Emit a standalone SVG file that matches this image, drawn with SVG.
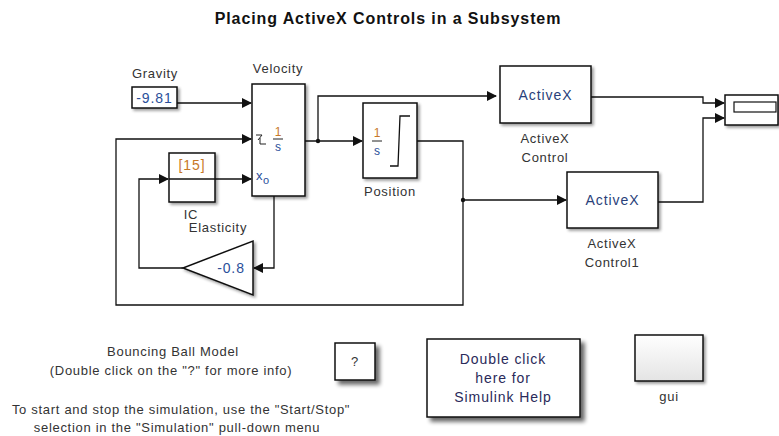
<svg xmlns="http://www.w3.org/2000/svg" width="779" height="436" viewBox="0 0 779 436">
<style>
text{font-family:"Liberation Sans",Arial,sans-serif;font-size:13px;letter-spacing:0.7px;fill:#333}
.title{font-size:16px;font-weight:bold;letter-spacing:0.9px;fill:#111}
.blk{fill:#fff;stroke:#111;stroke-width:1.5}
.ln{fill:none;stroke:#111;stroke-width:1.3}
.in{font-size:14px;letter-spacing:0.9px}
.num{fill:#2a4f9a}
.org{fill:#c87828}
.ax{fill:#2a3f7a}
.hp{fill:#2a2a5a}
</style>
<defs>
<marker id="ah" markerWidth="10" markerHeight="10" refX="9" refY="5" orient="auto" markerUnits="userSpaceOnUse">
<path d="M0,0 L10,5 L0,10 z" fill="#111"/>
</marker>
<filter id="sh" x="-20%" y="-20%" width="150%" height="150%">
<feGaussianBlur in="SourceAlpha" stdDeviation="1.5"/>
<feOffset dx="2" dy="2" result="b"/>
<feComponentTransfer><feFuncA type="linear" slope="0.4"/></feComponentTransfer>
<feMerge><feMergeNode/><feMergeNode in="SourceGraphic"/></feMerge>
</filter>
<filter id="sh2" x="-20%" y="-20%" width="150%" height="150%">
<feGaussianBlur in="SourceAlpha" stdDeviation="2"/>
<feOffset dx="4" dy="4" result="b"/>
<feComponentTransfer><feFuncA type="linear" slope="0.6"/></feComponentTransfer>
<feMerge><feMergeNode/><feMergeNode in="SourceGraphic"/></feMerge>
</filter>
<linearGradient id="gg" x1="0" y1="0" x2="0" y2="1">
<stop offset="0" stop-color="#ffffff"/>
<stop offset="1" stop-color="#e4e4e4"/>
</linearGradient>
</defs>

<text class="title" x="388" y="24" text-anchor="middle">Placing ActiveX Controls in a Subsystem</text>

<g id="connectors">
<path class="ln" d="M177,103 H251" marker-end="url(#ah)"/>
<path class="ln" d="M305,141 H362" marker-end="url(#ah)"/>
<path class="ln" d="M318,141 V96 H496" marker-end="url(#ah)"/>
<path class="ln" d="M417,141 H463 V305 H116 V139 H251" marker-end="url(#ah)"/>
<path class="ln" d="M463,200 H566" marker-end="url(#ah)"/>
<path class="ln" d="M274,196 V268 H254" marker-end="url(#ah)"/>
<path class="ln" d="M183,268 H139 V179 H168" marker-end="url(#ah)"/>
<path class="ln" d="M215,179 H251" marker-end="url(#ah)"/>
<path class="ln" d="M591,97 H703 V103 H724" marker-end="url(#ah)"/>
<path class="ln" d="M658,202 H703 V118 H724" marker-end="url(#ah)"/>
<circle cx="318" cy="141" r="2.2" fill="#111"/>
<circle cx="463" cy="200" r="2.2" fill="#111"/>
</g>

<g id="gravity">
<rect class="blk" x="132" y="87" width="45" height="21" filter="url(#sh)"/>
<text class="in num" x="154.5" y="103" text-anchor="middle">-9.81</text>
<text x="155" y="78" text-anchor="middle">Gravity</text>
</g>

<g id="velocity">
<rect class="blk" x="252" y="84" width="53" height="112" filter="url(#sh)"/>
<text x="278" y="73" text-anchor="middle">Velocity</text>
<path d="M256,135 h6 l-4,5 M260,138 v6 h6" fill="none" stroke="#222" stroke-width="1"/>
<text class="org" x="278" y="136" text-anchor="middle" style="font-size:12px;letter-spacing:0">1</text>
<line x1="273" y1="139" x2="283" y2="139" stroke="#222" stroke-width="1"/>
<text class="num" x="278" y="151" text-anchor="middle" style="font-size:12px;letter-spacing:0">s</text>
<text class="num" x="256" y="180" style="font-size:13px;letter-spacing:0">x</text>
<text class="num" x="263" y="184" style="font-size:11px;letter-spacing:0">o</text>
</g>

<g id="ic">
<rect class="blk" x="169" y="153" width="46" height="49" filter="url(#sh)"/>
<line x1="169" y1="179" x2="215" y2="179" stroke="#111" stroke-width="1.3"/>
<text class="in org" x="192" y="170" text-anchor="middle">[15]</text>
<text x="191" y="219" text-anchor="middle">IC</text>
</g>

<g id="elasticity">
<path d="M253,241 V295 L183,268 z" class="blk" filter="url(#sh)"/>
<text class="in num" x="231" y="273" text-anchor="middle">-0.8</text>
<text x="218" y="232" text-anchor="middle">Elasticity</text>
</g>

<g id="position">
<rect class="blk" x="363" y="103" width="54" height="75" filter="url(#sh)"/>
<text class="org" x="377" y="137" text-anchor="middle" style="font-size:12px;letter-spacing:0">1</text>
<line x1="372" y1="141" x2="382" y2="141" stroke="#222" stroke-width="1"/>
<text class="num" x="377" y="155" text-anchor="middle" style="font-size:12px;letter-spacing:0">s</text>
<path d="M390,166 H398 L400,116 H410" fill="none" stroke="#111" stroke-width="1.3"/>
<text x="390" y="196" text-anchor="middle">Position</text>
</g>

<g id="activex-control">
<rect class="blk" x="500" y="66" width="91" height="57" filter="url(#sh)"/>
<text class="in ax" x="545.5" y="100" text-anchor="middle">ActiveX</text>
<text x="545" y="143" text-anchor="middle">ActiveX</text>
<text x="545" y="162" text-anchor="middle">Control</text>
</g>

<g id="activex-control1">
<rect class="blk" x="567" y="172" width="91" height="56" filter="url(#sh)"/>
<text class="in ax" x="612.5" y="205" text-anchor="middle">ActiveX</text>
<text x="612" y="248" text-anchor="middle">ActiveX</text>
<text x="612" y="267" text-anchor="middle">Control1</text>
</g>

<g id="display">
<rect class="blk" x="725" y="95" width="53" height="30" filter="url(#sh)"/>
<rect x="734" y="102" width="42" height="10" fill="#fff" stroke="#111" stroke-width="1.2"/>
</g>

<g id="info-text">
<text x="173" y="356" text-anchor="middle">Bouncing Ball Model</text>
<text x="171" y="375" text-anchor="middle">(Double click on the "?" for more info)</text>
<text x="181" y="414" text-anchor="middle">To start and stop the simulation, use the "Start/Stop"</text>
<text x="177" y="432" text-anchor="middle">selection in the "Simulation" pull-down menu</text>
</g>

<g id="help-q">
<rect class="blk" x="335" y="343" width="40" height="37" filter="url(#sh2)"/>
<text x="355" y="366" text-anchor="middle">?</text>
</g>

<g id="simulink-help">
<rect class="blk" x="427" y="339" width="153" height="78" filter="url(#sh2)"/>
<text class="in hp" x="503" y="364" text-anchor="middle">Double click</text>
<text class="in hp" x="503" y="383" text-anchor="middle">here for</text>
<text class="in hp" x="503" y="402" text-anchor="middle">Simulink Help</text>
</g>

<g id="gui">
<rect x="635" y="335" width="68" height="46" fill="url(#gg)" stroke="#111" stroke-width="1.5" filter="url(#sh)"/>
<text x="669" y="401" text-anchor="middle">gui</text>
</g>
</svg>
